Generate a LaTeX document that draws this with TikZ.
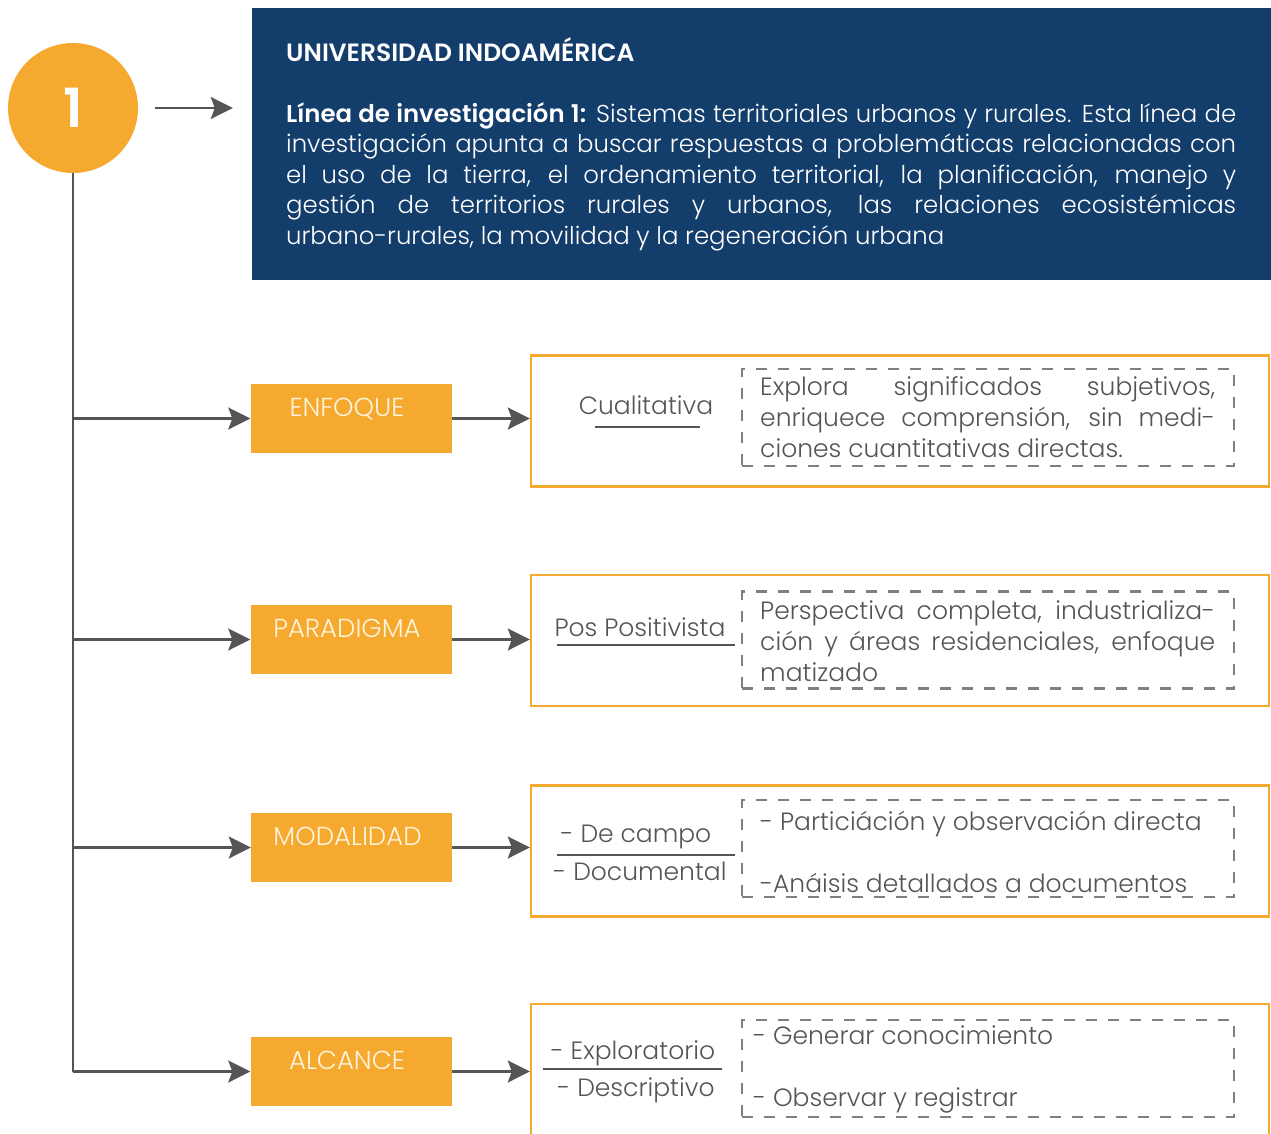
\documentclass[tikz,border=0pt]{standalone}
\usepackage{fontspec}
\setmainfont{Poppins}[UprightFont={* Light},BoldFont={* SemiBold}]
\usepackage{xcolor}
\usetikzlibrary{arrows.meta}
\definecolor{naranja}{HTML}{F6A92F}
\definecolor{crema}{HTML}{FFF3DC}
\definecolor{azul}{HTML}{133D6B}
\definecolor{gris}{HTML}{555555}
\definecolor{grisclaro}{HTML}{808080}
\newcommand{\renglon}[2]{\makebox[#1][s]{#2}}

\begin{document}
\begin{tikzpicture}[x=1pt,y=-1pt]
\tikzstyle{every node}+=[inner sep=0pt]
\tikzstyle{flecha}=[draw=gris,line width=2.4pt,-{Stealth[length=22pt,width=22pt,inset=4pt]}]
\tikzstyle{raya}=[draw=gris,line width=1.3pt]
\tikzstyle{etiqueta}=[fill=naranja,text=crema,minimum width=201pt,minimum height=69pt,font=\fontsize{26}{30}\selectfont,text height=17pt,text depth=22pt,execute at end node=\kern8pt]
\tikzstyle{marco}=[draw=naranja,line width=2.4pt,minimum width=738pt,minimum height=131pt]
\tikzstyle{punteado}=[draw=grisclaro,line width=2.4pt,dash pattern=on 11pt off 11pt,minimum width=492pt,minimum height=97pt]
\tikzstyle{texto}=[text=gris,font=\fontsize{25}{31}\selectfont,align=left]
\useasboundingbox (0,0) rectangle (1271,1134);

\node [circle,fill=naranja,minimum size=130pt,text=white,font=\fontsize{54}{54}\selectfont\bfseries] (uno) at (73,108) {1};
\node [fill=azul,minimum width=1019pt,minimum height=272pt] (uni) at (761.5,144) {};
\node [anchor=base west,text=white,font=\fontsize{25}{28}\selectfont\bfseries] (titulo) at (286,62) {UNIVERSIDAD INDOAMÉRICA};
\node [anchor=base west,text=white,font=\fontsize{24.4}{30.5}\selectfont,align=left] (linea) at (286,244) {\renglon{950pt}{\textbf{Línea de investigación 1:} Sistemas territoriales urbanos y rurales. Esta línea de}\\
\renglon{950pt}{investigación apunta a buscar respuestas a problemáticas relacionadas con}\\
\renglon{950pt}{el uso de la tierra, el ordenamiento territorial, la planificación, manejo y}\\
\renglon{950pt}{gestión de territorios rurales y urbanos, las relaciones ecosistémicas}\\
urbano-rurales, la movilidad y la regeneración urbana};
\draw [flecha] ([xshift=17pt]uno.east) -- ([xshift=-19pt]uno.east -| uni.west);

\node [etiqueta] (enf) at (351,418.5) {ENFOQUE};
\node [etiqueta] (par) at (351,639.5) {PARADIGMA};
\node [etiqueta] (mod) at (351.5,847.5) {MODALIDAD};
\node [etiqueta] (alc) at (351,1071.5) {ALCANCE};
\draw [raya,line width=2.4pt] (uno.south) -- (uno.south |- alc.west);
\draw [flecha] (uno.south |- enf.west) -- (enf.west);
\draw [flecha] (uno.south |- par.west) -- (par.west);
\draw [flecha] (uno.south |- mod.west) -- (mod.west);
\draw [flecha] (uno.south |- alc.west) -- (alc.west);

\node [marco] (enfm) at (900,421) {};
\node [marco] (parm) at (900,640.5) {};
\node [marco] (modm) at (900,851) {};
\node [marco,minimum height=132pt] (alcm) at (900,1070) {};
\draw [flecha] (enf.east) -- (enf.east -| enfm.west);
\draw [flecha] (par.east) -- (par.east -| parm.west);
\draw [flecha] (mod.east) -- (mod.east -| modm.west);
\draw [flecha] (alc.east) -- (alc.east -| alcm.west);

\node [punteado] (enfp) at (988,417.5) {};
\node [punteado] (parp) at (988,640) {};
\node [punteado] (modp) at (988,848.5) {};
\node [punteado] (alcp) at (988,1068.5) {};

\node [texto,anchor=base] (cual) at (646,414) {Cualitativa};
\draw [raya] (595,427) -- (700,427);
\node [texto,anchor=base west] (explora) at (760,457) {\renglon{455pt}{Explora significados subjetivos,}\\
\renglon{455pt}{enriquece comprensión, sin medi-}\\
ciones cuantitativas directas.};

\node [texto,anchor=base] (pos) at (640,636) {Pos Positivista};
\draw [raya] (557,645) -- (735,645);
\node [texto,anchor=base west] (persp) at (760,681) {\renglon{455pt}{Perspectiva completa, industrializa-}\\
\renglon{455pt}{ción y áreas residenciales, enfoque}\\
matizado};

\node [texto,anchor=base] (campo) at (636,842) {- De campo};
\draw [raya] (557,855) -- (735,855);
\node [texto,anchor=base] (docu) at (640,880) {- Documental};
\node [texto,anchor=base west] (partic) at (760,830) {- Particiáción y observación directa};
\node [texto,anchor=base west] (analis) at (760,892) {-Anáisis detallados a documentos};

\node [texto,anchor=base] (explo) at (633,1059) {- Exploratorio};
\draw [raya] (543,1069) -- (722,1069);
\node [texto,anchor=base] (descr) at (636,1096) {- Descriptivo};
\node [texto,anchor=base west] (generar) at (753,1044) {- Generar conocimiento};
\node [texto,anchor=base west] (observ) at (753,1106) {- Observar y registrar};
\end{tikzpicture}
\end{document}
